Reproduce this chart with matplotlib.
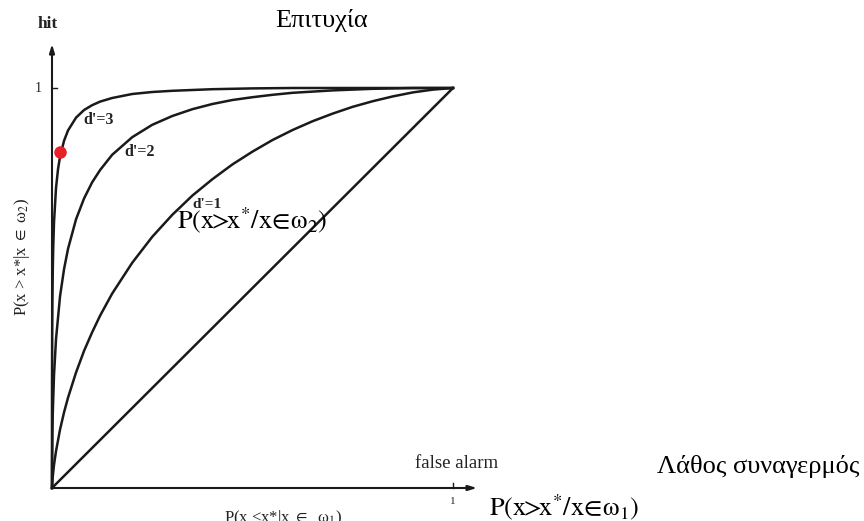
import matplotlib
matplotlib.use("Agg")
import matplotlib.pyplot as plt

plt.rcParams["font.family"] = ["Liberation Serif", "DejaVu Serif"]
plt.rcParams["mathtext.fontset"] = "stix"

# ROC curves: false-alarm rate vs hit rate for three sensitivities
fa_d1 = [0.0, 0.001, 0.002, 0.005, 0.01, 0.02, 0.03, 0.04, 0.06, 0.08, 0.10, 0.12,
         0.15, 0.20, 0.25, 0.30, 0.35, 0.40, 0.45, 0.50, 0.55, 0.60, 0.65, 0.70,
         0.75, 0.80, 0.85, 0.90, 0.95, 1.0]
hit_d1 = [0.0, 0.018, 0.030, 0.058, 0.092, 0.146, 0.189, 0.226, 0.289, 0.343, 0.389,
          0.431, 0.486, 0.563, 0.628, 0.683, 0.731, 0.772, 0.809, 0.841, 0.870, 0.895,
          0.917, 0.936, 0.953, 0.967, 0.979, 0.989, 0.996, 1.0]

fa_d2 = [0.0, 0.0002, 0.001, 0.002, 0.005, 0.01, 0.02, 0.03, 0.04, 0.06, 0.08, 0.10,
         0.12, 0.15, 0.20, 0.25, 0.30, 0.35, 0.40, 0.45, 0.50, 0.55, 0.60, 0.70,
         0.80, 0.90, 1.0]
hit_d2 = [0.0, 0.062, 0.138, 0.190, 0.282, 0.372, 0.479, 0.547, 0.598, 0.672, 0.724,
          0.764, 0.795, 0.833, 0.877, 0.908, 0.930, 0.947, 0.960, 0.970, 0.977, 0.983,
          0.988, 0.994, 0.998, 1.0, 1.0]

fa_d3 = [0.0, 0.0001, 0.0005, 0.001, 0.002, 0.003, 0.005, 0.01, 0.015, 0.02, 0.03,
         0.04, 0.06, 0.08, 0.10, 0.12, 0.15, 0.20, 0.25, 0.30, 0.40, 0.50, 0.60,
         0.80, 1.0]
hit_d3 = [0.0, 0.236, 0.386, 0.464, 0.549, 0.599, 0.664, 0.750, 0.797, 0.828, 0.868,
          0.894, 0.926, 0.945, 0.957, 0.966, 0.975, 0.985, 0.990, 0.993, 0.997, 0.999,
          1.0, 1.0, 1.0]

chance_fa = [0.0, 1.0]
chance_hit = [0.0, 1.0]

point_fa = [0.02]
point_hit = [0.84]

W, H = 864, 521
fig = plt.figure(figsize=(W / 100, H / 100), dpi=100)
x0, y0, x1, y1 = 52, 488, 453, 88
ax = fig.add_axes([x0 / W, 1 - y0 / H, (x1 - x0) / W, (y0 - y1) / H])
ax.set_xlim(0, 1)
ax.set_ylim(0, 1)
ax.axis("off")

lc = "#1a1a1a"
for fa, hit in [(fa_d1, hit_d1), (fa_d2, hit_d2), (fa_d3, hit_d3)]:
    ax.plot(fa, hit, color=lc, lw=1.8, clip_on=False, solid_joinstyle="round")
ax.plot(chance_fa, chance_hit, color=lc, lw=1.8, clip_on=False)
ax.plot(point_fa, point_hit, "o", color="#e8202a", ms=8, clip_on=False, zorder=5)

# axes drawn as arrows
arrow = dict(arrowstyle="-|>,head_length=0.5,head_width=0.15", color=lc, lw=1.5,
             shrinkA=0, shrinkB=0)
ax.annotate("", xy=(1.06, 0), xytext=(0, 0), arrowprops=arrow, annotation_clip=False)
ax.annotate("", xy=(0, 1.11), xytext=(0, 0), arrowprops=arrow, annotation_clip=False)
ax.plot([1, 1], [0, 0.012], color=lc, lw=1, clip_on=False)
ax.plot([0, 0.012], [1, 1], color=lc, lw=1, clip_on=False)

grey = "#222222"
ax.text(-0.025, 1.0, "1", ha="right", va="center", fontsize=10, color=grey)
ax.text(1.0, -0.022, "1", ha="center", va="top", fontsize=8, color=grey)
ax.text(-0.01, 1.14, "hit", ha="center", va="bottom", fontsize=12.5,
        fontweight="bold", color=grey)
ax.text(1.01, 0.04, "false alarm", ha="center", va="bottom", fontsize=13.5, color=grey)
ax.text(0.576, -0.05, r"P(x <x*|x $\in$  ω$_1$)", ha="center", va="top",
        fontsize=12, color=grey)
ax.text(-0.075, 0.577, r"P(x > x*|x $\in$ ω$_2$)", ha="center", va="center",
        rotation=90, fontsize=12, color=grey)

ax.text(0.077, 0.92, "d'=3", ha="left", va="center", fontsize=11.5,
        fontweight="bold", color=grey)
ax.text(0.18, 0.84, "d'=2", ha="left", va="center", fontsize=11.5,
        fontweight="bold", color=grey)
ax.text(0.35, 0.7075, "d'=1", ha="left", va="center", fontsize=11,
        fontweight="bold", color=grey)

big = dict(fontsize=19, color="black")
eq2 = r"$\mathrm{P(x}\!\!>\!\!\mathrm{x^{*}/x}\!\in\!\mathrm{ω_{2})}$"
eq1 = r"$\mathrm{P(x}\!\!>\!\!\mathrm{x^{*}/x}\!\in\!\mathrm{ω_{1})}$"
ax.text(0.5, 0.67, eq2, ha="center", va="center", **big)
fig.text(322 / W, 1 - 21 / H, "Επιτυχία", ha="center", va="center", **big)
fig.text(758 / W, 1 - 466 / H, "Λάθος συναγερμός", ha="center", va="center", **big)
fig.text(564 / W, 1 - 507 / H, eq1, ha="center", va="center", **big)

fig.savefig("out.png", dpi=100)
